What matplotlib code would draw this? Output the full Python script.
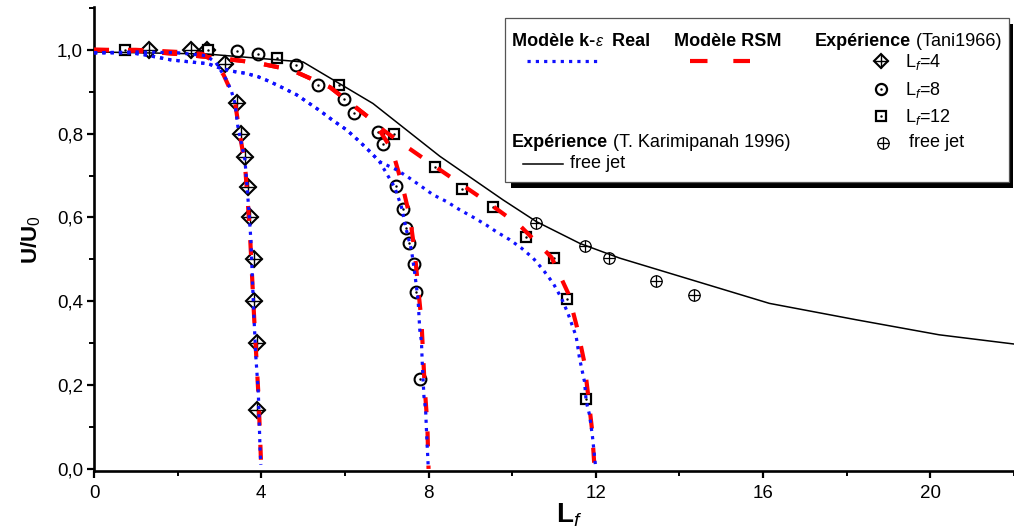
import matplotlib
matplotlib.use("Agg")
import matplotlib.pyplot as plt
from matplotlib.lines import Line2D
from matplotlib.patches import Rectangle
from matplotlib.ticker import MultipleLocator, FixedLocator, FuncFormatter

plt.rcParams['font.family'] = ['Liberation Sans', 'DejaVu Sans']
plt.rcParams['mathtext.fontset'] = 'custom'
plt.rcParams['mathtext.rm'] = 'Liberation Sans'
plt.rcParams['mathtext.it'] = 'Liberation Sans:italic'
plt.rcParams['mathtext.bf'] = 'Liberation Sans:bold'

# ---------------- data ----------------
# Experiment (Tani 1966)
tani_l4_x = [1.32, 2.31, 2.70, 3.13, 3.43, 3.51, 3.61, 3.68, 3.74, 3.82, 3.82, 3.89, 3.89]
tani_l4_y = [1.00, 1.00, 1.00, 0.967, 0.873, 0.80, 0.745, 0.673, 0.60, 0.50, 0.40, 0.30, 0.14]

tani_l8_x = [3.43, 3.93, 4.84, 5.35, 5.97, 6.22, 6.79, 6.90, 7.22, 7.39, 7.45, 7.54, 7.65, 7.71, 7.80]
tani_l8_y = [0.998, 0.99, 0.964, 0.916, 0.882, 0.849, 0.804, 0.776, 0.674, 0.621, 0.575, 0.539,
             0.489, 0.421, 0.215]

tani_l12_x = [0.74, 2.72, 4.37, 5.85, 7.18, 8.15, 8.79, 9.54, 10.34, 11.00, 11.30, 11.77]
tani_l12_y = [1.00, 1.00, 0.98, 0.915, 0.80, 0.72, 0.668, 0.624, 0.553, 0.504, 0.405, 0.166]

tani_free_x = [10.58, 11.75, 12.31, 13.45, 14.34]
tani_free_y = [0.586, 0.533, 0.503, 0.449, 0.415]

# Experiment (Karimipanah 1996), free jet
kari_free_x = [0.0, 2.7, 5.0, 6.67, 8.27, 9.78, 10.58, 11.62, 12.57, 16.15, 18.22, 20.21, 22.0]
kari_free_y = [0.995, 0.99, 0.971, 0.872, 0.746, 0.642, 0.590, 0.538, 0.503, 0.395, 0.356, 0.320, 0.298]

# k-epsilon Realizable model
ke_l4_x = [0.0, 1.0, 2.0, 2.68, 2.92, 3.17, 3.29, 3.37, 3.44, 3.61, 3.69, 3.75, 3.79, 3.82, 3.87,
           3.93, 3.97, 3.99]
ke_l4_y = [0.993, 0.995, 0.993, 0.986, 0.969, 0.928, 0.900, 0.873, 0.817, 0.737, 0.634, 0.549,
           0.447, 0.372, 0.268, 0.181, 0.05, 0.01]

ke_common_x = [0.0, 0.88, 1.22, 1.53, 1.84, 2.41, 2.72, 3.03, 3.36, 3.63, 3.92, 4.21, 4.52, 4.84,
               5.12, 5.40, 5.72, 6.04, 6.32, 6.60, 6.83]
ke_common_y = [0.993, 0.993, 0.988, 0.982, 0.976, 0.970, 0.967, 0.956, 0.948, 0.944, 0.936, 0.924,
               0.909, 0.893, 0.874, 0.855, 0.831, 0.809, 0.784, 0.757, 0.733]

ke_l8_x = ke_common_x + [6.99, 7.19, 7.35, 7.47, 7.59, 7.67, 7.75, 7.79, 7.83, 7.85, 7.89, 7.93,
                         7.95, 7.99]
ke_l8_y = ke_common_y + [0.706, 0.672, 0.626, 0.570, 0.523, 0.467, 0.403, 0.332, 0.304, 0.252,
                         0.173, 0.141, 0.093, 0.01]

ke_l12_x = ke_common_x + [7.23, 7.50, 7.83, 8.11, 8.43, 8.75, 9.06, 9.38, 9.62, 9.94, 10.22, 10.50,
                          10.74, 10.98, 11.18, 11.33, 11.43, 11.53, 11.61, 11.67, 11.73, 11.77,
                          11.85, 11.92, 11.99]
ke_l12_y = ke_common_y + [0.714, 0.697, 0.674, 0.654, 0.638, 0.618, 0.601, 0.582, 0.566, 0.547,
                          0.527, 0.503, 0.475, 0.443, 0.407, 0.372, 0.344, 0.316, 0.264, 0.236,
                          0.208, 0.161, 0.129, 0.077, 0.01]

# RSM model
rsm_l4_x = [0.0, 1.0, 2.0, 2.6, 2.9, 3.1, 3.36, 3.48, 3.61, 3.68, 3.74, 3.79, 3.83, 3.88, 3.93,
            3.97, 4.0]
rsm_l4_y = [1.0, 1.0, 0.995, 0.99, 0.97, 0.94, 0.883, 0.803, 0.726, 0.634, 0.54, 0.44, 0.36, 0.27,
            0.18, 0.08, 0.0]

rsm_common_x = [0.0, 1.0, 2.0, 3.0, 3.84, 4.72, 5.64, 6.54, 6.75]
rsm_common_y = [1.0, 0.998, 0.99, 0.98, 0.970, 0.952, 0.911, 0.841, 0.82]

rsm_l8_x = rsm_common_x + [7.13, 7.37, 7.56, 7.67, 7.75, 7.83, 7.87, 7.91, 7.97, 8.0]
rsm_l8_y = rsm_common_y + [0.761, 0.678, 0.598, 0.517, 0.433, 0.354, 0.272, 0.192, 0.109, 0.0]

rsm_l12_x = rsm_common_x + [7.46, 8.34, 9.30, 10.20, 10.94, 11.34, 11.55, 11.72, 11.82, 11.91, 11.97]
rsm_l12_y = rsm_common_y + [0.770, 0.709, 0.644, 0.579, 0.505, 0.419, 0.338, 0.257, 0.173, 0.093, 0.0]

x_ticks = [0, 4, 8, 12, 16, 20]
y_ticks = [0.0, 0.2, 0.4, 0.6, 0.8, 1.0]

# ---------------- figure ----------------
W, H = 1014, 528
fig = plt.figure(figsize=(W / 100, H / 100), dpi=100)
ax = fig.add_axes([94 / W, (H - 471) / H, (W - 94) / W, 463.5 / H])
ax.set_xlim(0, 22)
ax.set_ylim(-0.005, 1.101)

BLUE = '#1010ff'
RED = '#ff0000'

# experimental markers
mk = dict(linestyle='none', color='black', zorder=2)
ax.plot(tani_l4_x, tani_l4_y, marker='D', ms=7.8, mfc='white', mec='black', mew=1.5, **mk)
ax.plot(tani_l4_x, tani_l4_y, marker='+', ms=10.8, mec='black', mew=1.0, **mk)
ax.plot(tani_l8_x, tani_l8_y, marker='o', ms=8.5, mfc='white', mec='black', mew=1.5, **mk)
ax.plot(tani_l8_x, tani_l8_y, marker='.', ms=1.5, mec='black', **mk)
ax.plot(tani_l12_x, tani_l12_y, marker='s', ms=7.2, mfc='white', mec='black', mew=1.6, **mk)
ax.plot(tani_l12_x, tani_l12_y, marker='.', ms=1.5, mec='black', **mk)
ax.plot(tani_free_x, tani_free_y, marker='o', ms=8.2, mfc='white', mec='black', mew=0.9, **mk)
ax.plot(tani_free_x, tani_free_y, marker='+', ms=8.2, mec='black', mew=0.9, **mk)

# free jet line
ax.plot(kari_free_x, kari_free_y, color='black', lw=1.1, zorder=2.5)

# model curves
rsm_style = dict(color=RED, lw=3.0, dashes=(3.6, 4.6), dash_capstyle='butt', zorder=3)
for xs, ys in [(rsm_l4_x, rsm_l4_y), (rsm_l8_x, rsm_l8_y), (rsm_l12_x, rsm_l12_y)]:
    ax.plot(xs, ys, **rsm_style)

ke_style = dict(color=BLUE, lw=2.3, dashes=(1.0, 1.6), dash_capstyle='butt', zorder=4)
for xs, ys in [(ke_l4_x, ke_l4_y), (ke_l8_x, ke_l8_y), (ke_l12_x, ke_l12_y)]:
    ax.plot(xs, ys, **ke_style)

# axes styling
for side in ('top', 'right'):
    ax.spines[side].set_visible(False)
for side in ('left', 'bottom'):
    ax.spines[side].set_linewidth(1.9)
ax.xaxis.set_major_locator(FixedLocator(x_ticks))
ax.xaxis.set_minor_locator(MultipleLocator(2))
ax.yaxis.set_major_locator(FixedLocator(y_ticks))
ax.yaxis.set_minor_locator(MultipleLocator(0.1))
ax.yaxis.set_major_formatter(FuncFormatter(lambda v, p: f'{v:.1f}'.replace('.', ',')))
ax.tick_params(which='major', direction='out', length=5, width=1.6, labelsize=13.5, pad=3)
ax.tick_params(which='major', axis='x', pad=5)
ax.tick_params(which='minor', direction='out', length=3.5, width=1.4)

ax.set_xlabel(r'$\mathbf{L}_{\mathit{f}}$', fontsize=20)
ax.xaxis.set_label_coords(0.516, -0.065)
ax.set_ylabel(r'$\mathbf{U/U}_{0}$', fontsize=16, labelpad=10)

# ---------------- legend box ----------------
def fx(px):
    return px / W


def fy(py):
    return 1 - py / H


tf = fig.transFigure
fig.patches.append(Rectangle((fx(511), fy(188)), fx(1013) - fx(511), fy(24) - fy(188),
                             transform=tf, facecolor='black', edgecolor='none', zorder=5))
fig.patches.append(Rectangle((fx(505), fy(182)), fx(1009) - fx(505), fy(18) - fy(182),
                             transform=tf, facecolor='white', edgecolor='#555555', lw=0.9,
                             zorder=6))

renderer = fig.canvas.get_renderer()
LEG_FS = 13


def text_run(px, py, parts, size=LEG_FS):
    """Draw consecutive text pieces with differing weights/styles on one baseline."""
    x = px
    for s, kw in parts:
        style = dict(fontsize=size, va='center', ha='left', zorder=7)
        style.update(kw)
        t = fig.text(fx(x), fy(py), s, **style)
        bb = t.get_window_extent(renderer)
        x += bb.width


B = dict(fontweight='bold')
N = dict()

text_run(512, 41, [('Modèle k-', B), ('ε', dict(fontstyle='italic', fontsize=11.5)), ('  Real', B)])
text_run(674, 41, [('Modèle RSM', B)])
text_run(815, 41, [('Expérience', B), (' (Tani1966)', N)])
text_run(512, 143, [('Expérience', B), (' (T. Karimipanah 1996)', N)])

fig.add_artist(Line2D([fx(527), fx(600)], [fy(61), fy(61)], transform=tf, color=BLUE, lw=2.3,
                      dashes=(1.0, 1.6), dash_capstyle='butt', zorder=7))
fig.add_artist(Line2D([fx(690), fx(750)], [fy(61), fy(61)], transform=tf, color=RED, lw=3.0,
                      dashes=(4.2, 6.2), dash_capstyle='butt', zorder=7))
fig.add_artist(Line2D([fx(523), fx(563)], [fy(164), fy(164)], transform=tf, color='black',
                      lw=1.1, zorder=7))
fig.text(fx(570), fy(164), 'free jet', fontsize=LEG_FS, va='center', ha='left', zorder=7)


# marker samples
def mark(px, py, **kw):
    fig.add_artist(Line2D([fx(px)], [fy(py)], transform=tf, linestyle='none', zorder=7, **kw))


mark(881, 61, marker='D', ms=7.6, mfc='white', mec='black', mew=1.5)
mark(881, 61, marker='+', ms=10.5, mec='black', mew=1.0)
mark(881, 89, marker='o', ms=8.0, mfc='white', mec='black', mew=1.6)
mark(881, 89, marker='.', ms=1.5, mec='black', color='black')
mark(881, 116, marker='s', ms=7.0, mfc='white', mec='black', mew=1.6)
mark(881, 116, marker='.', ms=1.5, mec='black', color='black')
mark(883, 143, marker='o', ms=8.2, mfc='white', mec='black', mew=0.9)
mark(883, 143, marker='+', ms=8.2, mec='black', mew=0.9)

fig.text(fx(905), fy(62), r'L$_{\mathit{f}}$=4', fontsize=LEG_FS, va='center', ha='left', zorder=7)
fig.text(fx(905), fy(90), r'L$_{\mathit{f}}$=8', fontsize=LEG_FS, va='center', ha='left', zorder=7)
fig.text(fx(905), fy(117), r'L$_{\mathit{f}}$=12', fontsize=LEG_FS, va='center', ha='left', zorder=7)
fig.text(fx(909), fy(143), 'free jet', fontsize=LEG_FS, va='center', ha='left', zorder=7)

fig.savefig('out.png', dpi=100)
